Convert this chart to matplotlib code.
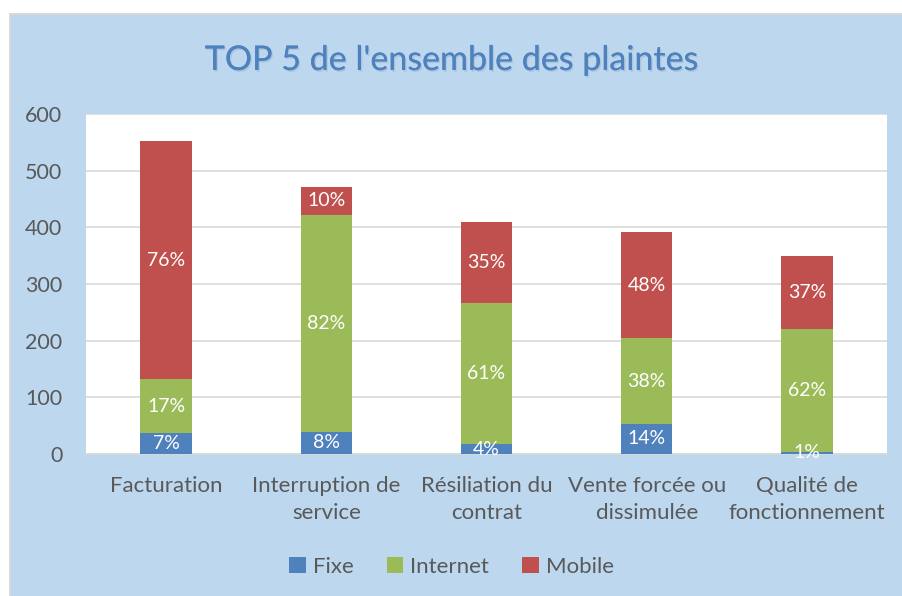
import matplotlib
matplotlib.use("Agg")
import matplotlib.pyplot as plt
import matplotlib.patheffects as pe
from matplotlib.patches import Rectangle
import numpy as np

categories = ["Facturation", "Interruption de\nservice", "Résiliation du\ncontrat",
              "Vente forcée ou\ndissimulée", "Qualité de\nfonctionnement"]
fixe = [37, 39, 17, 53, 4]
internet = [95, 383, 249, 151, 217]
mobile = [420, 49, 143, 188, 128]
fixe_lbl = ["7%", "8%", "4%", "14%", "1%"]
internet_lbl = ["17%", "82%", "61%", "38%", "62%"]
mobile_lbl = ["76%", "10%", "35%", "48%", "37%"]
yticks = [0, 100, 200, 300, 400, 500, 600]

plt.rcParams['font.family'] = ['Lato', 'DejaVu Sans']
txt = "#595959"
bg = "#BDD7EE"
c_fixe, c_int, c_mob = "#4F81BD", "#9BBB59", "#C0504D"

fig = plt.figure(figsize=(9.03, 5.96), dpi=100, facecolor="white")
W, H = 903, 596
# outer border + blue background
fig.patches.append(Rectangle((9/W, 0), 1 - 9/W, 1 - 13/H, transform=fig.transFigure,
                             facecolor="#D9D9D9", edgecolor="none", zorder=-2))
fig.patches.append(Rectangle((11/W, 0), 1 - 11/W, 1 - 15/H, transform=fig.transFigure,
                             facecolor=bg, edgecolor="none", zorder=-1))

ax = fig.add_axes([86/W, 1 - 454/H, (887-86)/W, (454-114)/H])
ax.set_facecolor("white")
x = np.arange(len(categories))
w = 0.32
f = np.array(fixe); i = np.array(internet); m = np.array(mobile)
b1 = ax.bar(x, f, w, color=c_fixe, label="Fixe", zorder=3)
b2 = ax.bar(x, i, w, bottom=f, color=c_int, label="Internet", zorder=3)
b3 = ax.bar(x, m, w, bottom=f + i, color=c_mob, label="Mobile", zorder=3)

for bars, labels, bottoms, vals in [(b1, fixe_lbl, np.zeros(5), f), (b2, internet_lbl, f, i), (b3, mobile_lbl, f + i, m)]:
    for k, (lab, b0, v) in enumerate(zip(labels, bottoms, vals)):
        ax.text(x[k], b0 + v / 2, lab, ha="center", va="center", color="white",
                fontsize=14, zorder=5, clip_on=False)

ax.set_xlim(-0.5, 4.5)
ax.set_ylim(0, 600)
ax.set_yticks(yticks)
ax.set_yticklabels([str(t) for t in yticks])
ax.yaxis.grid(True, color="#D9D9D9", linewidth=1.2, zorder=0)
ax.set_axisbelow(True)
for s in ["top", "right", "left"]:
    ax.spines[s].set_visible(False)
ax.spines["bottom"].set_color("#D9D9D9")
ax.spines["bottom"].set_linewidth(1.2)
ax.tick_params(axis="both", length=0, colors=txt, labelsize=16)
ax.tick_params(axis="y", pad=17, labelsize=15.5)
ax.tick_params(axis="x", pad=16)
ax.set_xticks(x)
ax.set_xticklabels(categories, color=txt, fontsize=16, linespacing=1.45)
for t in ax.get_yticklabels():
    t.set_ha("right")

fig.text(0.5, 1 - 60/H, "TOP 5 de l'ensemble des plaintes", ha="center", va="center",
         fontsize=24.5, color="#4F81BD",
         path_effects=[pe.withSimplePatchShadow(offset=(1, -1.2), shadow_rgbFace="#8FAACB", alpha=0.4), pe.Normal()])

leg = fig.legend(handles=[b1, b2, b3], labels=["Fixe", "Internet", "Mobile"],
                 loc="center", bbox_to_anchor=(0.5, 1 - 567/H), ncol=3, frameon=False,
                 fontsize=16, handlelength=0.75, handleheight=0.75, handletextpad=0.3,
                 columnspacing=1.5)
for t in leg.get_texts():
    t.set_color(txt)

fig.savefig("out.png", dpi=100, facecolor="white")
